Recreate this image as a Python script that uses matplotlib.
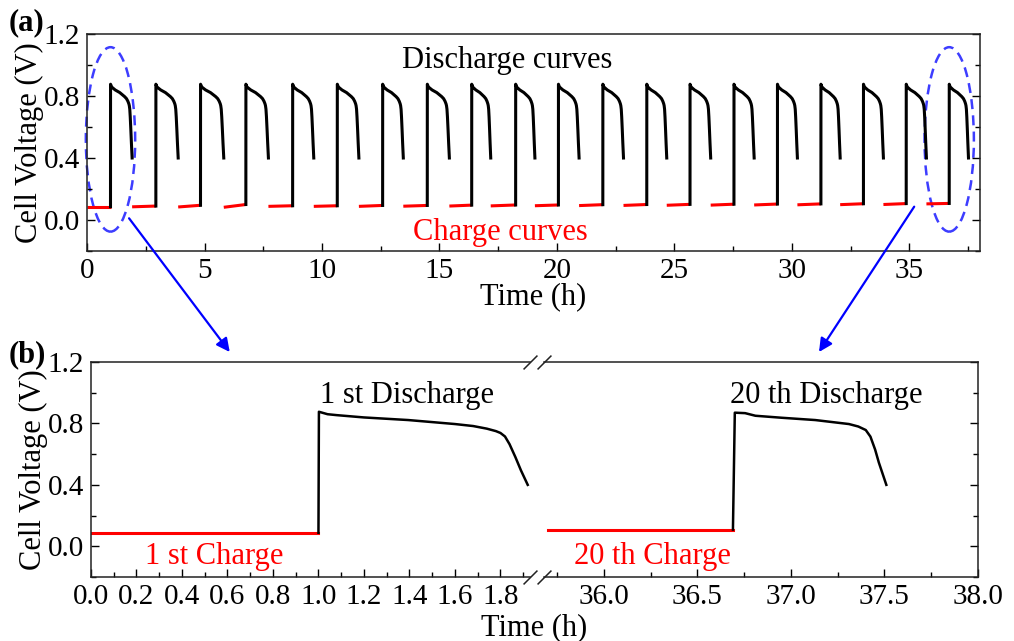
import matplotlib
matplotlib.use("Agg")
import numpy as np
import matplotlib.pyplot as plt
from matplotlib.patches import Ellipse, ConnectionPatch
from matplotlib.ticker import MultipleLocator, FormatStrFormatter

plt.rcParams['font.family'] = ['Liberation Serif', 'DejaVu Serif']

RED = '#ff0000'
BLUE = '#0000ff'

# ---- (a) 20 charge/discharge cycles, times in h ----
dis_start = [1.00, 2.93, 4.83, 6.76, 8.75, 10.65, 12.58, 14.48, 16.37, 18.24,
             20.06, 21.95, 23.82, 25.66, 27.53, 29.38, 31.23, 33.04, 34.86, 36.69]
dis_end = [1.92, 3.88, 5.82, 7.72, 9.65, 11.57, 13.46, 15.42, 17.18, 19.06,
           20.94, 22.83, 24.67, 26.54, 28.39, 30.23, 32.05, 33.89, 35.72, 37.51]
chg_v_start = [0.086, 0.085, 0.084, 0.082, 0.088, 0.088, 0.088, 0.089, 0.090, 0.091,
               0.092, 0.093, 0.094, 0.095, 0.096, 0.097, 0.098, 0.099, 0.100, 0.104]
chg_v_end = [0.086, 0.090, 0.095, 0.100, 0.092, 0.092, 0.094, 0.094, 0.096, 0.097,
             0.097, 0.099, 0.100, 0.101, 0.102, 0.103, 0.104, 0.105, 0.106, 0.107]

# ---- (b) first and last cycle in detail ----
c1_t = [0.0, 1.0]
c1_v = [0.088, 0.088]
d1_t = [1.00, 1.002, 1.04, 1.08, 1.20, 1.395, 1.60, 1.68, 1.74, 1.78, 1.80, 1.82,
        1.84, 1.866, 1.89, 1.92]
d1_v = [0.088, 0.876, 0.860, 0.854, 0.839, 0.822, 0.796, 0.783, 0.766, 0.750, 0.738,
        0.715, 0.665, 0.580, 0.495, 0.40]

c20_t = [35.70, 36.69]
c20_v = [0.109, 0.109]
d20_t = [36.69, 36.70, 36.755, 36.81, 36.95, 37.13, 37.31, 37.36, 37.40, 37.425,
         37.45, 37.47, 37.51]
d20_v = [0.109, 0.870, 0.867, 0.850, 0.837, 0.822, 0.796, 0.780, 0.757, 0.714,
         0.630, 0.545, 0.40]

W, H = 1014, 641
fig = plt.figure(figsize=(W / 100, H / 100), dpi=100)


def rect(l, t, r, b):
    return [l / W, 1 - b / H, (r - l) / W, (b - t) / H]


def style(ax, right=True):
    ax.tick_params(which='both', direction='in', top=False, right=right,
                   labelsize=21, width=1.0, pad=5)
    ax.tick_params(which='major', length=6)
    ax.tick_params(which='minor', length=3.5)
    for s in ax.spines.values():
        s.set_linewidth(1.1)
        s.set_color('#222222')


# panel (a)
ax_a = fig.add_axes(rect(87, 34, 980, 251))
prof = (np.array(d1_t) - d1_t[0]) / (d1_t[-1] - d1_t[0])
chg_start = [0.0] + dis_end[:-1]
for i in range(len(dis_start)):
    ax_a.plot([chg_start[i], dis_start[i]], [chg_v_start[i], chg_v_end[i]],
              color=RED, lw=2.2, solid_capstyle='butt')
    t = dis_start[i] + prof * (dis_end[i] - dis_start[i])
    v = np.array(d1_v, dtype=float)
    v[0] = chg_v_end[i]
    ax_a.plot(t, v, color='black', lw=2.2)

ax_a.set_xlim(0, 38)
ax_a.set_ylim(-0.2, 1.2)
ax_a.xaxis.set_major_locator(MultipleLocator(5))
ax_a.xaxis.set_minor_locator(MultipleLocator(2.5))
ax_a.yaxis.set_major_locator(MultipleLocator(0.4))
ax_a.yaxis.set_minor_locator(MultipleLocator(0.2))
ax_a.yaxis.set_major_formatter(FormatStrFormatter('%.1f'))
style(ax_a)
ax_a.set_xlabel('Time (h)', fontsize=22, labelpad=-1)
ax_a.set_ylabel('Cell Voltage (V)', fontsize=22, labelpad=0)
ax_a.text(17.9, 1.03, 'Discharge curves', fontsize=22, ha='center', va='center')
ax_a.text(17.6, -0.08, 'Charge curves', fontsize=22, ha='center', va='center', color=RED)

for cx in (1.0, 36.69):
    ax_a.add_patch(Ellipse((cx, 0.52), width=2.1, height=1.19, fill=False,
                           ec='#3d3dff', lw=1.8, ls=(0, (4, 2.5)), clip_on=False))

# panel (b), broken time axis
ax_bl = fig.add_axes(rect(91, 362, 530, 577))
ax_br = fig.add_axes(rect(544, 362, 978, 577), sharey=ax_bl)

ax_bl.plot(c1_t, c1_v, color=RED, lw=2.2)
ax_bl.plot(d1_t, d1_v, color='black', lw=1.8)
ax_br.plot(c20_t, c20_v, color=RED, lw=2.2)
ax_br.plot(d20_t, d20_v, color='black', lw=1.8)

ax_bl.set_xlim(0, 1.93)
ax_br.set_xlim(35.68, 38.0)
ax_bl.set_ylim(-0.2, 1.2)
ax_bl.xaxis.set_major_locator(MultipleLocator(0.2))
ax_bl.xaxis.set_minor_locator(MultipleLocator(0.1))
ax_br.xaxis.set_major_locator(MultipleLocator(0.5))
ax_br.xaxis.set_minor_locator(MultipleLocator(0.25))
ax_bl.yaxis.set_major_locator(MultipleLocator(0.4))
ax_bl.yaxis.set_minor_locator(MultipleLocator(0.2))
ax_bl.yaxis.set_major_formatter(FormatStrFormatter('%.1f'))
ax_bl.xaxis.set_major_formatter(FormatStrFormatter('%.1f'))
ax_br.xaxis.set_major_formatter(FormatStrFormatter('%.1f'))
style(ax_bl, right=False)
style(ax_br)
ax_bl.spines['right'].set_visible(False)
ax_br.spines['left'].set_visible(False)
ax_br.tick_params(which='both', left=False, labelleft=False)
ax_bl.set_ylabel('Cell Voltage (V)', fontsize=22, labelpad=0)

# break marks
kw = dict(marker=[(-1, -1), (1, 1)], markersize=10, linestyle='none',
          color='#222222', mec='#222222', mew=1.1, clip_on=False)
ax_bl.plot([1, 1], [0, 1], transform=ax_bl.transAxes, **kw)
ax_br.plot([0, 0], [0, 1], transform=ax_br.transAxes, **kw)

ax_bl.text(1.39, 0.985, '1 st Discharge', fontsize=22, ha='center', va='center')
ax_br.text(37.19, 0.985, '20 th Discharge', fontsize=22, ha='center', va='center')
ax_bl.text(0.54, -0.065, '1 st Charge', fontsize=22, ha='center', va='center', color=RED)
ax_br.text(36.26, -0.065, '20 th Charge', fontsize=22, ha='center', va='center', color=RED)

fig.text((91 + 978) / 2 / W, 1 - 628 / H, 'Time (h)', fontsize=22, ha='center', va='center')

# arrows linking the circled cycles to panel (b)
for (xa, ya), ax_to, xb in (((1.79, 0.011), ax_bl, 0.61), ((35.2, 0.086), ax_br, 37.15)):
    con = ConnectionPatch(xyA=(xa, ya), coordsA=ax_a.transData,
                          xyB=(xb, 1.265), coordsB=ax_to.transData,
                          arrowstyle='-|>', mutation_scale=20, color=BLUE, lw=1.6)
    fig.add_artist(con)

fig.text(27 / W, 1 - 23 / H, '(a)', fontsize=22, fontweight='bold', ha='center', va='center')
fig.text(27 / W, 1 - 355 / H, '(b)', fontsize=22, fontweight='bold', ha='center', va='center')

fig.savefig('out.png', dpi=100)
